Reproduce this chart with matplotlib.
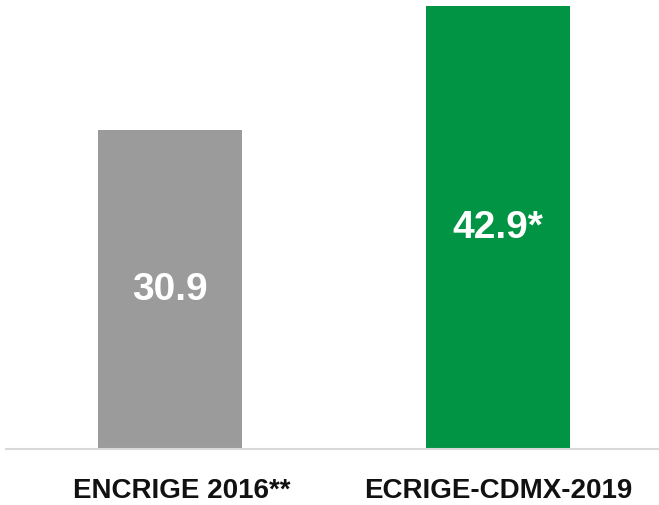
import matplotlib
matplotlib.use('Agg')
import matplotlib.pyplot as plt
from matplotlib.transforms import ScaledTranslation

categories = ['ENCRIGE 2016**', 'ECRIGE-CDMX-2019']
values = [30.9, 42.9]
value_labels = ['30.9', '42.9*']
colors = ['#9b9b9b', '#009444']

fig = plt.figure(figsize=(6.59, 5.06), dpi=100)
ax = fig.add_axes([6 / 659, 56 / 506, 653 / 659, (450 - 7) / 506])

x = list(range(len(categories)))
bars = ax.bar(x, values, width=0.44, color=colors)

ax.set_xlim(-0.5, 1.49)
ax.set_ylim(0, 42.9)

for b, lab in zip(bars, value_labels):
    ax.text(b.get_x() + b.get_width() / 2, b.get_height() / 2, lab,
            ha='center', va='center', color='white', fontsize=28,
            fontweight='bold', family=['Liberation Sans', 'DejaVu Sans'])

ax.set_xticks(x)
ax.set_xticklabels(categories, fontsize=20, fontweight='bold',
                   family=['Liberation Sans Narrow', 'Liberation Sans', 'DejaVu Sans'],
                   color='#111111')
ax.tick_params(axis='x', length=0, pad=20)
ax.set_yticks([])

# the ** sits outside the centred name
lbl = ax.get_xticklabels()[0]
lbl.set_transform(lbl.get_transform() + ScaledTranslation(0.12, 0, fig.dpi_scale_trans))

for s in ['top', 'right', 'left']:
    ax.spines[s].set_visible(False)
ax.spines['bottom'].set_color('#d9d9d9')
ax.spines['bottom'].set_linewidth(1.5)

fig.savefig('out.png', dpi=100)
